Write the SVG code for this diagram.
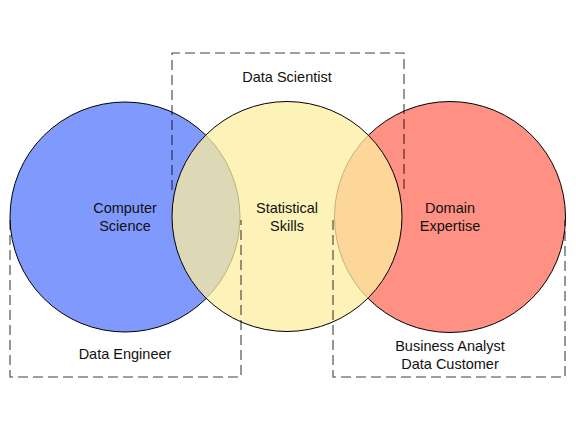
<svg xmlns="http://www.w3.org/2000/svg" width="576" height="432" viewBox="0 0 576 432">
<style>
.c{stroke:#000;stroke-width:1}
.box{fill:none;stroke:#000;stroke-opacity:0.75;stroke-width:1.1;stroke-dasharray:10 5}
text{font-family:"Liberation Sans",Arial,sans-serif;font-size:14.5px;fill:#111;text-anchor:middle}
</style>
<rect width="576" height="432" fill="#fff"/>
<g id="computer-science">
<circle class="c" cx="125" cy="217" r="115" fill="#8099fc"/>
<text x="125" y="213">Computer</text>
<text x="125" y="231">Science</text>
</g>
<g id="domain-expertise">
<circle class="c" cx="450" cy="217" r="115.5" fill="#fe9183"/>
<text x="450" y="213">Domain</text>
<text x="450" y="231">Expertise</text>
</g>
<g id="statistical-skills">
<circle class="c" cx="287" cy="216.5" r="115" fill="#fcefa0" fill-opacity="0.75"/>
<text x="287" y="213">Statistical</text>
<text x="287" y="231">Skills</text>
</g>
<g id="connectors">
<path class="box" d="M172 190 V53 H404 V190"/>
<path class="box" d="M10 220 V377 H241 V220"/>
<path class="box" d="M333 220 V377 H565 V220"/>
</g>
<g id="data-scientist"><text x="287" y="82">Data Scientist</text></g>
<g id="data-engineer"><text x="125" y="359">Data Engineer</text></g>
<g id="business-analyst">
<text x="450" y="351">Business Analyst</text>
<text x="450" y="369">Data Customer</text>
</g>
</svg>
